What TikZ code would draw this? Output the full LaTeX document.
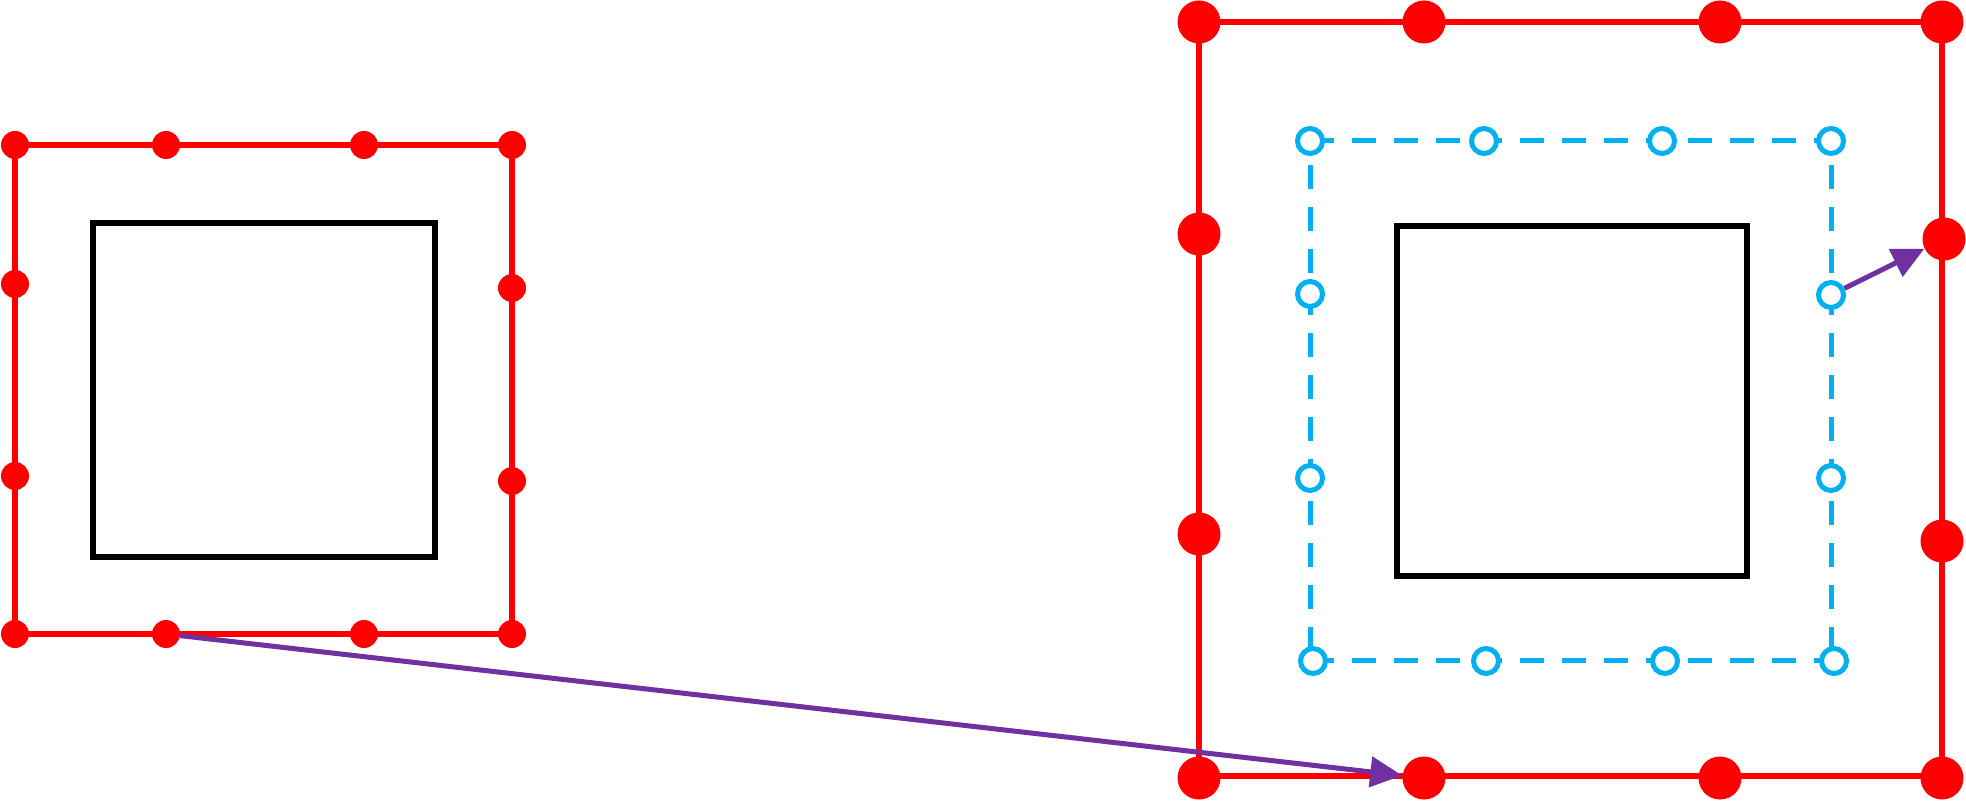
\documentclass[tikz,border=0pt]{standalone}
\usetikzlibrary{arrows.meta}
\definecolor{myred}{HTML}{FF0000}
\definecolor{mycyan}{HTML}{00B0F0}
\definecolor{mypurple}{HTML}{7030A0}
\tikzset{
  sdot/.style={circle,fill=myred,inner sep=0pt,minimum size=14pt},
  bdot/.style={circle,fill=myred,inner sep=0pt,minimum size=21.5pt},
  odot/.style={circle,draw=mycyan,fill=white,line width=2.5pt,inner sep=0pt,minimum size=12.5pt},
  redline/.style={draw=myred,line width=3pt},
  blackbox/.style={draw=black,line width=2.75pt},
  cyanh/.style={draw=mycyan,line width=2.5pt,dash pattern=on 12pt off 9pt,dash phase=0pt},
  cyanv/.style={draw=mycyan,line width=2.5pt,dash pattern=on 12pt off 9pt,dash phase=9pt},
  parrow/.style={draw=mypurple,line width=2.5pt,-{Triangle[length=16pt,width=15pt]}}
}
\begin{document}
\begin{tikzpicture}[x=0.5pt,y=-0.5pt]
\useasboundingbox[fill=white] (0,0) rectangle (1966,802);
% ---------- left figure ----------
\coordinate (LA) at (15,145);
\coordinate (LB) at (512,145);
\coordinate (LC) at (512,634);
\coordinate (LD) at (15,634);
\draw[redline] (LA) -- (LB) -- (LC) -- (LD) -- cycle;
\draw[blackbox] (93,223) rectangle (435,557);
\node[sdot] (lt1) at (15,145) {};
\node[sdot] (lt2) at (166,145) {};
\node[sdot] (lt3) at (364,145) {};
\node[sdot] (lt4) at (512,145) {};
\node[sdot] (ll1) at (15,284) {};
\node[sdot] (ll2) at (15,476) {};
\node[sdot] (lr1) at (512,288) {};
\node[sdot] (lr2) at (512,481) {};
\node[sdot] (lb1) at (15,634) {};
\node[sdot] (lb2) at (166,634) {};
\node[sdot] (lb3) at (364,634) {};
\node[sdot] (lb4) at (512,634) {};
% ---------- right figure ----------
\coordinate (RA) at (1199,22);
\coordinate (RB) at (1942,22);
\coordinate (RC) at (1942,776);
\coordinate (RD) at (1199,776);
\draw[redline] (RA) -- (RB) -- (RC) -- (RD) -- cycle;
\draw[blackbox] (1397,226) rectangle (1747,576);
% cyan dashed square
\coordinate (CA) at (1310,141);
\coordinate (CB) at (1831,141);
\coordinate (CC) at (1831,660);
\coordinate (CD) at (1310,660);
\draw[cyanh] (CA) -- (CB);
\draw[cyanh] (CD) -- (CC);
\draw[cyanv] (CA) -- (CD);
\draw[cyanv] (CB) -- (CC);
\node[bdot] (rt1) at (1199,22) {};
\node[bdot] (rt2) at (1424,22) {};
\node[bdot] (rt3) at (1720,22) {};
\node[bdot] (rt4) at (1942,22) {};
\node[bdot] (rl1) at (1199,234) {};
\node[bdot] (rl2) at (1199,534) {};
\node[bdot] (rr1) at (1944,239) {};
\node[bdot] (rr2) at (1942,541) {};
\node[bdot] (rb1) at (1199,778) {};
\node[bdot] (rb2) at (1424,778) {};
\node[bdot] (rb3) at (1720,778) {};
\node[bdot] (rb4) at (1942,778) {};
\node[odot] (ct1) at (1310,141) {};
\node[odot] (ct2) at (1484,141) {};
\node[odot] (ct3) at (1662,141) {};
\node[odot] (ct4) at (1831,141) {};
\node[odot] (cl1) at (1310,294) {};
\node[odot] (cl2) at (1310,478) {};
\node[odot] (cr1) at (1831,295) {};
\node[odot] (cr2) at (1831,478) {};
\node[odot] (cb1) at (1313,661) {};
\node[odot] (cb2) at (1486,661) {};
\node[odot] (cb3) at (1665,661) {};
\node[odot] (cb4) at (1834,661) {};
% ---------- arrows ----------
\draw[parrow] (lb2) -- (rb2);
\draw[parrow] (cr1) -- (rr1);
\end{tikzpicture}
\end{document}
